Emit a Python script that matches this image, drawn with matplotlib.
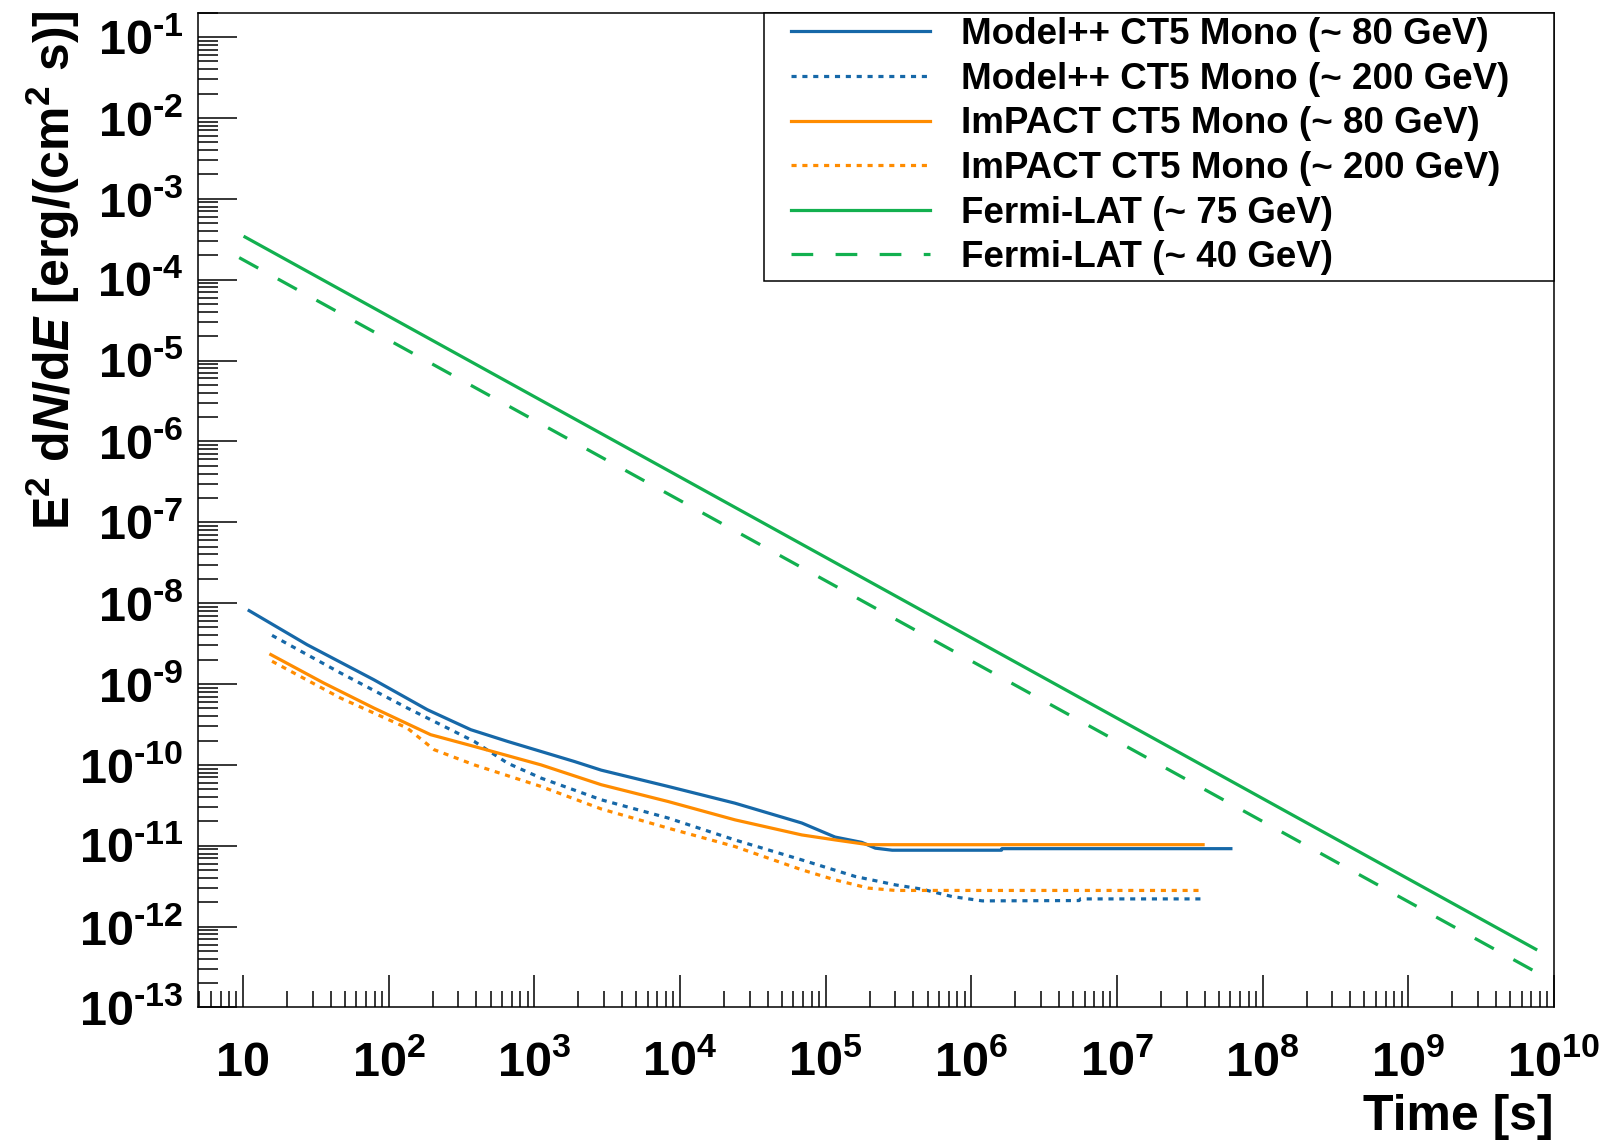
import matplotlib
matplotlib.use("Agg")
import matplotlib.pyplot as plt
from matplotlib.patches import Rectangle
from matplotlib.ticker import LogLocator, NullFormatter

# Sensitivity curves (time in s, E^2 dN/dE in erg/(cm^2 s))
m80_t = [11.0, 27.5, 78.9, 184, 366, 654, 1883, 2877, 8283, 2.38e4, 6.85e4,
         1.16e5, 1.77e5, 2.19e5, 2.86e5, 1.61e6, 1.62e6, 6.05e7]
m80_f = [8.07e-9, 3.06e-9, 1.13e-9, 4.81e-10, 2.72e-10, 1.95e-10, 1.10e-10,
         8.6e-11, 5.41e-11, 3.36e-11, 1.91e-11, 1.28e-11, 1.10e-11, 9.33e-12,
         8.8e-12, 8.8e-12, 9.2e-12, 9.2e-12]

m200_t = [15.8, 46.6, 134, 253, 386, 654, 1109, 2877, 8283, 2.38e4, 6.85e4,
          1.6e5, 3.01e5, 4.6e5, 7.4e5, 1.19e6, 5.5e6, 5.6e6, 3.9e7]
m200_f = [3.99e-9, 1.37e-9, 5.05e-10, 2.85e-10, 1.95e-10, 1.05e-10, 6.87e-11,
          3.7e-11, 2.2e-11, 1.18e-11, 6.68e-12, 4.16e-12, 3.28e-12, 2.9e-12,
          2.35e-12, 2.08e-12, 2.1e-12, 2.2e-12, 2.2e-12]

i80_t = [15.5, 35.7, 78.9, 194, 386, 1109, 2877, 8283, 2.38e4, 6.85e4, 1.16e5,
         1.97e5, 3.9e7]
i80_f = [2.31e-9, 1.03e-9, 5.05e-10, 2.36e-10, 1.69e-10, 1.0e-10, 5.68e-11,
         3.52e-11, 2.09e-11, 1.36e-11, 1.18e-11, 1.03e-11, 1.03e-11]

i200_t = [15.8, 46.6, 134, 205, 386, 1109, 2877, 8283, 2.38e4, 6.85e4, 1.16e5,
          1.97e5, 3.01e5, 3.9e7]
i200_f = [1.91e-9, 6.71e-10, 2.85e-10, 1.54e-10, 1.0e-10, 5.41e-11, 2.85e-11,
          1.65e-11, 9.77e-12, 5.04e-12, 3.78e-12, 2.99e-12, 2.8e-12, 2.8e-12]

f75_t = [10.3, 7.5e9]
f75_f = [3.37e-4, 5.25e-13]
f40_t = [9.4, 8.2e9]
f40_f = [1.87e-4, 2.52e-13]

labels = ['Model++ CT5 Mono (~ 80 GeV)', 'Model++ CT5 Mono (~ 200 GeV)',
          'ImPACT CT5 Mono (~ 80 GeV)', 'ImPACT CT5 Mono (~ 200 GeV)',
          'Fermi-LAT (~ 75 GeV)', 'Fermi-LAT (~ 40 GeV)']

x_exp = list(range(1, 11))
y_exp = list(range(-13, 0))

plt.rcParams['font.family'] = ['Liberation Sans', 'DejaVu Sans']
plt.rcParams['font.weight'] = 'bold'
plt.rcParams['axes.labelweight'] = 'bold'
plt.rcParams['mathtext.fontset'] = 'custom'
plt.rcParams['mathtext.rm'] = 'Liberation Sans:bold'
plt.rcParams['mathtext.bf'] = 'Liberation Sans:bold'
plt.rcParams['mathtext.it'] = 'Liberation Sans:bold:italic'
plt.rcParams['mathtext.default'] = 'rm'

blue = '#1668a8'
orange = '#ff8c00'
green = '#12b04f'
lw = 2.3
dotted = (0, (1.6, 1.8))
dashed = (0, (6.8, 7.0))

fig = plt.figure(figsize=(16.07, 11.42), dpi=100)
ax = fig.add_axes([0.1232, 0.1178, 0.8438, 0.8711])

ax.plot(m80_t, m80_f, color=blue, lw=lw, label=labels[0])
ax.plot(m200_t, m200_f, color=blue, lw=lw, ls=dotted, label=labels[1])
ax.plot(i80_t, i80_f, color=orange, lw=lw, label=labels[2])
ax.plot(i200_t, i200_f, color=orange, lw=lw, ls=dotted, label=labels[3])
ax.plot(f75_t, f75_f, color=green, lw=lw, label=labels[4])
ax.plot(f40_t, f40_f, color=green, lw=lw, ls=dashed, label=labels[5])

ax.set_xscale('log')
ax.set_yscale('log')
ax.set_xlim(4.9, 1e10)
ax.set_ylim(1e-13, 0.2)

# ROOT-like axes: ticks inside, only bottom and left
for s in ax.spines.values():
    s.set_linewidth(1.1)
ax.tick_params(which='both', direction='in', top=False, right=False, width=1.1)
ax.tick_params(axis='x', which='major', length=23, pad=49.5, labelsize=35)
ax.tick_params(axis='x', which='minor', length=11.5)
ax.tick_params(axis='y', which='major', length=28, pad=10.5, labelsize=35)
ax.tick_params(axis='y', which='minor', length=14.4)

xlabels = ['10' if e == 1 else '$10^{%d}$' % e for e in x_exp]
ax.set_xticks([10.0 ** e for e in x_exp], labels=xlabels)
for lbl in ax.get_xticklabels():
    lbl.set_verticalalignment('baseline')
ylabels = ['$10^{\u2010%d}$' % (-e) for e in y_exp]
ax.set_yticks([10.0 ** e for e in y_exp], labels=ylabels)

ax.xaxis.set_minor_locator(LogLocator(base=10, subs=range(2, 10), numticks=100))
ax.yaxis.set_minor_locator(LogLocator(base=10, subs=range(2, 10), numticks=100))
ax.xaxis.set_minor_formatter(NullFormatter())
ax.yaxis.set_minor_formatter(NullFormatter())

ax.set_xlabel('Time [s]', loc='right', fontsize=36, va='baseline',
              fontweight='bold')
ax.xaxis.set_label_coords(1.0, -0.1231)
ax.set_ylabel(r'$E^{2}$ d$\mathit{N}$/d$\mathit{E}$ [erg/(cm$^{2}$ s)]',
              loc='top', va='center', fontsize=36, fontweight='bold')
ax.yaxis.set_label_coords(-0.1069, 1.0025)

# legend box
ax.add_patch(Rectangle((0.4172, 0.7302), 0.5828, 0.2698, transform=ax.transAxes,
                       facecolor='white', edgecolor='black', lw=1.1,
                       clip_on=False, zorder=4))
leg = ax.legend(loc='upper left', bbox_to_anchor=(0.4373, 0.9954), frameon=False,
                fontsize=26.5, borderpad=0, borderaxespad=0, handlelength=3.78,
                handletextpad=0.85, labelspacing=0.26)
leg.set_zorder(5)

fig.savefig('out.png', dpi=100)
